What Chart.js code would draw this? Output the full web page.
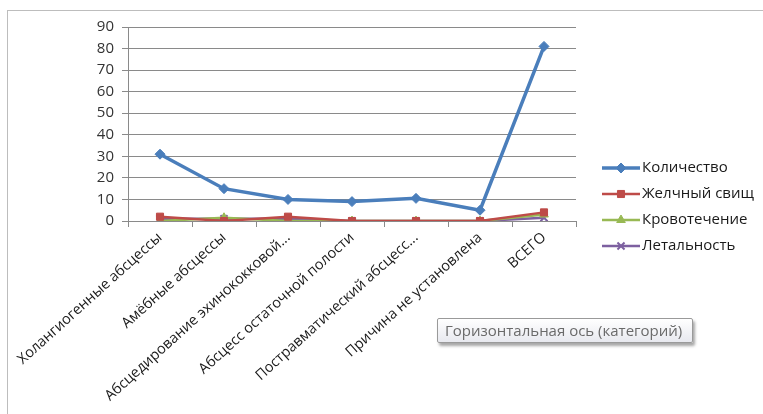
<!DOCTYPE html>
<html>
<head>
<meta charset="utf-8">
<script src="https://cdn.jsdelivr.net/npm/chart.js@4/dist/chart.umd.min.js"></script>
<style>
  html, body { margin: 0; padding: 0; background: #fff; }
  #wrap { position: relative; width: 763px; height: 414px; overflow: hidden; }
  #frame { position: absolute; left: 7px; top: 10px; width: 770px; height: 420px; border: 1px solid #bdbdbd; box-sizing: border-box; }
  #c { position: absolute; left: 0; top: 0; }
  #tip {
    position: absolute; left: 437px; top: 318px; width: 256px; height: 25px;
    border: 1px solid #9a9a9a; border-radius: 2px; box-sizing: border-box;
    background: linear-gradient(#ffffff, #e8e9ef);
    box-shadow: 2px 3px 3px rgba(0,0,0,0.35);
    font: 15px "Open Sans", sans-serif; color: #6a6a6a;
    line-height: 22px; padding-left: 7px; white-space: nowrap;
  }
</style>
</head>
<body>
<div id="wrap">
  <div id="frame"></div>
  <canvas id="c" width="763" height="414"></canvas>
  <div id="tip">Горизонтальная ось (категорий)</div>
</div>
<script>
// данные с рисунка
const categories = [
  'Холангиогенные абсцессы',
  'Амёбные абсцессы',
  'Абсцедирование эхинококковой...',
  'Абсцесс остаточной полости',
  'Постравматический абсцесс...',
  'Причина не установлена',
  'ВСЕГО'
];
const kolichestvo  = [31, 15, 10, 9, 10.5, 5, 81];
const zhelchSvisch = [2, 0, 2, 0, 0, 0, 4];
const krovotech    = [0, 1.5, 0, 0, 0, 0, 3];
const letalnost    = [1, 1, 1, 0, 0, 0, 1.5];
const yTicks = [0, 10, 20, 30, 40, 50, 60, 70, 80, 90];

const FONT = '"Open Sans", sans-serif';

function ds(label, data, color, style, width) {
  return {
    label, data,
    borderColor: color, backgroundColor: color,
    borderWidth: width, tension: 0,
    pointStyle: style, pointRadius: 5, pointHoverRadius: 5,
    pointBorderColor: color, pointBackgroundColor: color, pointBorderWidth: style === 'crossRot' ? 2 : 1
  };
}

// легенда справа: линия + маркер
const sideLegend = {
  id: 'sideLegend',
  afterDraw(chart) {
    const ctx = chart.ctx;
    const x0 = 602, x1 = 640, yStart = 168, step = 26;
    chart.data.datasets.forEach((d, i) => {
      const y = yStart + i * step;
      ctx.save();
      ctx.strokeStyle = d.borderColor;
      ctx.lineWidth = d.borderWidth;
      ctx.beginPath(); ctx.moveTo(x0, y); ctx.lineTo(x1, y); ctx.stroke();
      ctx.fillStyle = d.borderColor;
      ctx.strokeStyle = d.borderColor;
      ctx.lineWidth = d.pointBorderWidth;
      Chart.helpers.drawPoint(ctx, { pointStyle: d.pointStyle, radius: 5, rotation: 0, borderWidth: d.pointBorderWidth }, (x0 + x1) / 2, y);
      ctx.fillStyle = '#1a1a1a';
      ctx.font = '15px ' + FONT;
      ctx.textBaseline = 'middle';
      ctx.fillText(d.label, x1 + 2, y);
      ctx.restore();
    });
  }
};

new Chart(document.getElementById('c'), {
  type: 'line',
  data: {
    labels: categories,
    datasets: [
      ds('Количество', kolichestvo, '#4a7ebb', 'rectRot', 3.5),
      ds('Желчный свищ', zhelchSvisch, '#be4b48', 'rect', 2.5),
      ds('Кровотечение', krovotech, '#98b954', 'triangle', 2.5),
      ds('Летальность', letalnost, '#7d60a0', 'crossRot', 2.5)
    ]
  },
  options: {
    responsive: false,
    animation: false,
    layout: { padding: { left: 68, top: 27, right: 187, bottom: 5 } },
    plugins: { legend: { display: false }, tooltip: { enabled: false } },
    scales: {
      x: {
        offset: true,
        afterFit: s => { s.height = 188; },
        grid: { offset: true, drawOnChartArea: false, drawTicks: true, tickLength: 6, color: '#8a8a8a' },
        border: { display: true, color: '#8a8a8a', width: 1 },
        ticks: { autoSkip: false, maxRotation: 42, minRotation: 42, color: '#1a1a1a', font: { family: FONT, size: 14.5 }, padding: 2 }
      },
      y: {
        min: 0, max: 90,
        afterFit: s => { s.width = 60; },
        afterBuildTicks: s => { s.ticks = yTicks.map(v => ({ value: v })); },
        grid: { color: '#8a8a8a', tickLength: 6, lineWidth: 1 },
        border: { display: true, color: '#8a8a8a' },
        ticks: { color: '#333', font: { family: FONT, size: 15 }, padding: 8 }
      }
    }
  },
  plugins: [sideLegend]
});
</script>
</body>
</html>
